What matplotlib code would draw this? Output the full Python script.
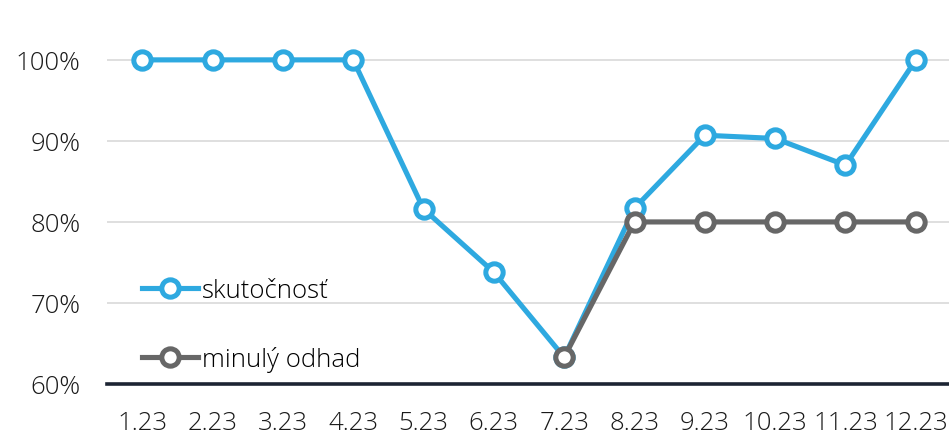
import matplotlib
matplotlib.use("Agg")
import matplotlib.pyplot as plt
import numpy as np

months = ["1.23", "2.23", "3.23", "4.23", "5.23", "6.23", "7.23", "8.23", "9.23", "10.23", "11.23", "12.23"]
skutocnost = [100, 100, 100, 100, 81.6, 73.8, 63.3, 81.7, 90.7, 90.3, 87.0, 100]
minuly_odhad = [None, None, None, None, None, None, 63.3, 80, 80, 80, 80, 80]
yticks = [60, 70, 80, 90, 100]

plt.rcParams['font.family'] = ['Open Sans', 'DejaVu Sans']
plt.rcParams['font.weight'] = 'light'

fig = plt.figure(figsize=(9.49, 4.35), dpi=100)
ax = fig.add_axes([107/949, 1 - 385/435, (951-107)/949, 385/435])

x = np.arange(len(months))
blue = "#2EA9E0"
gray = "#676767"
mo = np.array([np.nan if v is None else v for v in minuly_odhad], dtype=float)

ax.plot(x, skutocnost, color=blue, lw=3.7, marker='o', ms=12.5, mfc='white', mec=blue, mew=3.6,
        label="skutočnosť", zorder=3)
ax.plot(x, mo, color=gray, lw=3.7, marker='o', ms=12.5, mfc='white', mec=gray, mew=3.6,
        label="minulý odhad", zorder=4)

ax.set_xlim(-0.5, len(months) - 0.5)
ax.set_ylim(60, 100 + 61/8.12)
ax.set_xticks(x)
ax.set_xticklabels(months)
ax.set_yticks(yticks)
ax.set_yticklabels([f"{v}%" for v in yticks])
ax.tick_params(axis='both', length=0, labelsize=18.5, colors="#1a1a1a")
ax.tick_params(axis='x', pad=19)
ax.tick_params(axis='y', pad=19)
ax.grid(axis='y', color="#DCDCDC", lw=1.3, zorder=0)
for s in ["top", "right", "left"]:
    ax.spines[s].set_visible(False)
ax.spines["bottom"].set_color("#1C2433")
ax.spines["bottom"].set_linewidth(2.6)
ax.spines["bottom"].set_zorder(5)

leg = ax.legend(loc="lower left", bbox_to_anchor=(0.02, -0.015), frameon=False, fontsize=18.5,
                handlelength=2.2, handletextpad=0.15, labelspacing=1.65, borderaxespad=0.3)

fig.savefig("out.png", dpi=100)
